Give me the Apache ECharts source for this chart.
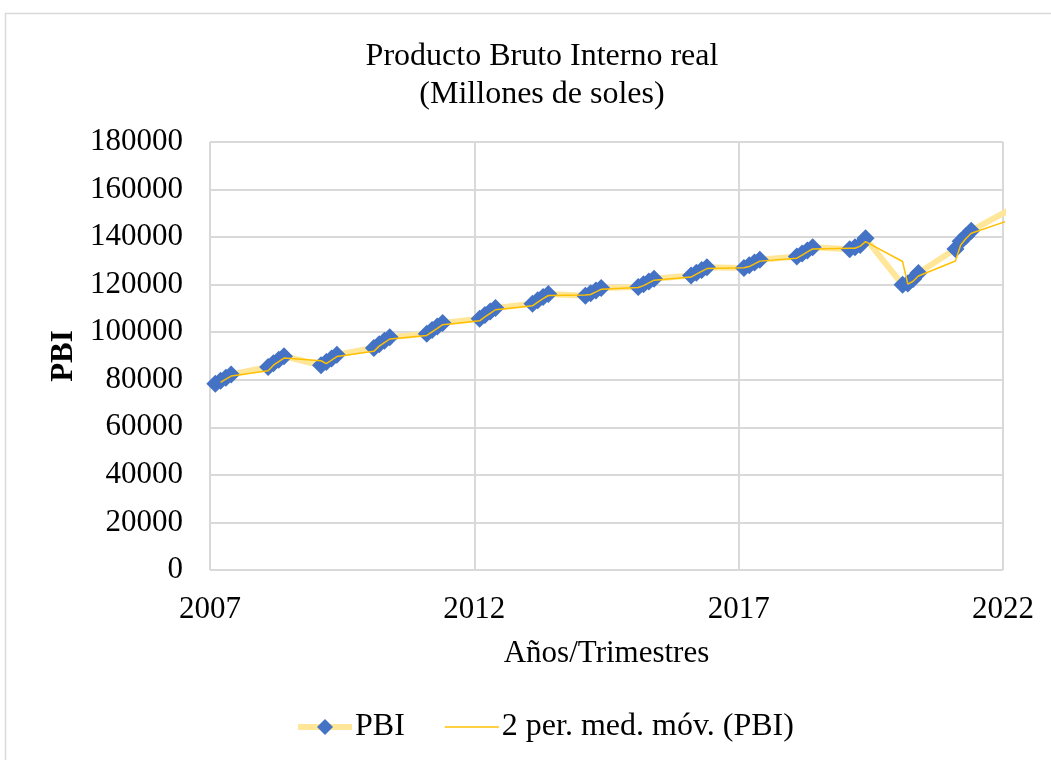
<!DOCTYPE html>
<html>
<head>
<meta charset="utf-8">
<script src="https://cdn.jsdelivr.net/npm/echarts@6/dist/echarts.min.js"></script>
<style>
  html, body { margin: 0; padding: 0; background: #fff; }
  #chart { width: 1051px; height: 760px; }
</style>
</head>
<body>
<div id="chart"></div>
<script>
// años y posición de cada trimestre dentro del año (como en la hoja: 2007.1, 2007.2 ...)
const anios = [2007, 2008, 2009, 2010, 2011, 2012, 2013, 2014, 2015, 2016, 2017, 2018, 2019, 2020, 2021, 2022]
const trimestres = [0.1, 0.2, 0.3, 0.4]

// PBI trimestral (millones de soles)
const pbi2007 = [78300, 79600, 80900, 82200]
const pbi2008 = [85400, 86900, 88400, 89900]
const pbi2009 = [86100, 87500, 89000, 90500]
const pbi2010 = [93400, 94900, 96400, 97900]
const pbi2011 = [99400, 100900, 102400, 103900]
const pbi2012 = [105700, 107200, 108700, 110200]
const pbi2013 = [112000, 113400, 114800, 116100]
const pbi2014 = [115300, 116400, 117500, 118600]
const pbi2015 = [119000, 120200, 121300, 122500]
const pbi2016 = [123900, 125000, 126200, 127300]
const pbi2017 = [127000, 128200, 129300, 130500]
const pbi2018 = [131800, 133100, 134400, 135700]
const pbi2019 = [134900, 135700, 136700, 139500]
const pbi2020 = [120000, 120500, 122400, 124900]
const pbi2021 = [135000, 138300, 140500, 142700]
const pbi2022 = [151200]

const ejeXTicks = [2007, 2012, 2017, 2022]
const ejeYTicks = [0, 20000, 40000, 60000, 80000, 100000, 120000, 140000, 160000, 180000]

const porAnio = [pbi2007, pbi2008, pbi2009, pbi2010, pbi2011, pbi2012, pbi2013, pbi2014,
  pbi2015, pbi2016, pbi2017, pbi2018, pbi2019, pbi2020, pbi2021, pbi2022]

let puntos = []
porAnio.forEach((vals, i) => {
  vals.forEach((v, q) => {
    puntos.push([+(anios[i] + trimestres[q]).toFixed(1), v])
  })
})

// línea de tendencia: media móvil de 2 periodos (igual que Excel)
let mediaMovil = []
for (let i = 1; i < puntos.length; i++) {
  mediaMovil.push([puntos[i][0], (puntos[i][1] + puntos[i - 1][1]) / 2])
}

const fuente = '"Liberation Serif", "Times New Roman", serif'

const chart = echarts.init(document.getElementById('chart'))
let option = {
  animation: false,
  textStyle: { fontFamily: fuente, color: '#000' },
  graphic: [
    {
      type: 'rect',
      shape: { x: 5.5, y: 13.5, width: 1100, height: 800 },
      style: { fill: 'none', stroke: '#d9d9d9', lineWidth: 1.5 },
      silent: true
    }
  ],
  title: {
    text: 'Producto Bruto Interno real\n(Millones de soles)',
    left: 537,
    top: 33,
    textAlign: 'center',
    textStyle: {
      fontFamily: fuente,
      fontWeight: 'normal',
      fontSize: 32,
      lineHeight: 38,
      color: '#000'
    }
  },
  legend: {
    left: 290,
    top: 706,
    itemWidth: 54,
    itemHeight: 20,
    itemGap: 40,
    textStyle: { fontFamily: fuente, fontSize: 32, color: '#000', padding: [0, 0, 0, -2] },
    data: [
      { name: 'PBI', lineStyle: { color: '#ffe699', width: 6 } },
      // solo la línea fina, sin marcador
      { name: '2 per. med. móv. (PBI)', icon: 'path://M0,0 L0,0 M0,9.25 L54,9.25 L54,10.75 L0,10.75 Z M54,20 L54,20' }
    ]
  },
  grid: {
    left: 210,
    right: 48,
    top: 142,
    bottom: 190
  },
  xAxis: {
    type: 'value',
    min: ejeXTicks[0],
    max: ejeXTicks[ejeXTicks.length - 1],
    interval: 5,
    name: 'Años/Trimestres',
    nameLocation: 'middle',
    nameGap: 68,
    nameTextStyle: { fontFamily: fuente, fontSize: 31, color: '#000' },
    axisLine: { show: false },
    axisTick: { show: false },
    axisLabel: {
      fontFamily: fuente, fontSize: 31, color: '#000', margin: 24,
      formatter: v => String(v)
    },
    splitLine: { show: true, lineStyle: { color: '#d9d9d9', width: 2 } }
  },
  yAxis: {
    type: 'value',
    min: ejeYTicks[0],
    max: ejeYTicks[ejeYTicks.length - 1],
    interval: 20000,
    name: 'PBI',
    nameLocation: 'middle',
    nameGap: 130,
    nameTextStyle: { fontFamily: fuente, fontSize: 31, fontWeight: 'bold', color: '#000' },
    axisLine: { show: false },
    axisTick: { show: false },
    axisLabel: {
      fontFamily: fuente, fontSize: 31, color: '#000', margin: 27,
      formatter: v => String(v)
    },
    splitLine: { show: true, lineStyle: { color: '#d9d9d9', width: 2 } }
  },
  series: [
    {
      name: 'PBI',
      type: 'line',
      data: puntos,
      clip: true,
      symbol: 'diamond',
      symbolSize: 18,
      itemStyle: { color: '#4472c4' },
      lineStyle: { color: '#ffe699', width: 6 },
      z: 2
    },
    {
      name: '2 per. med. móv. (PBI)',
      type: 'line',
      data: mediaMovil,
      clip: true,
      symbol: 'none',
      itemStyle: { color: '#ffc000' },
      lineStyle: { color: '#ffc000', width: 1.5 },
      z: 3
    }
  ]
}
chart.setOption(option)
</script>
</body>
</html>
